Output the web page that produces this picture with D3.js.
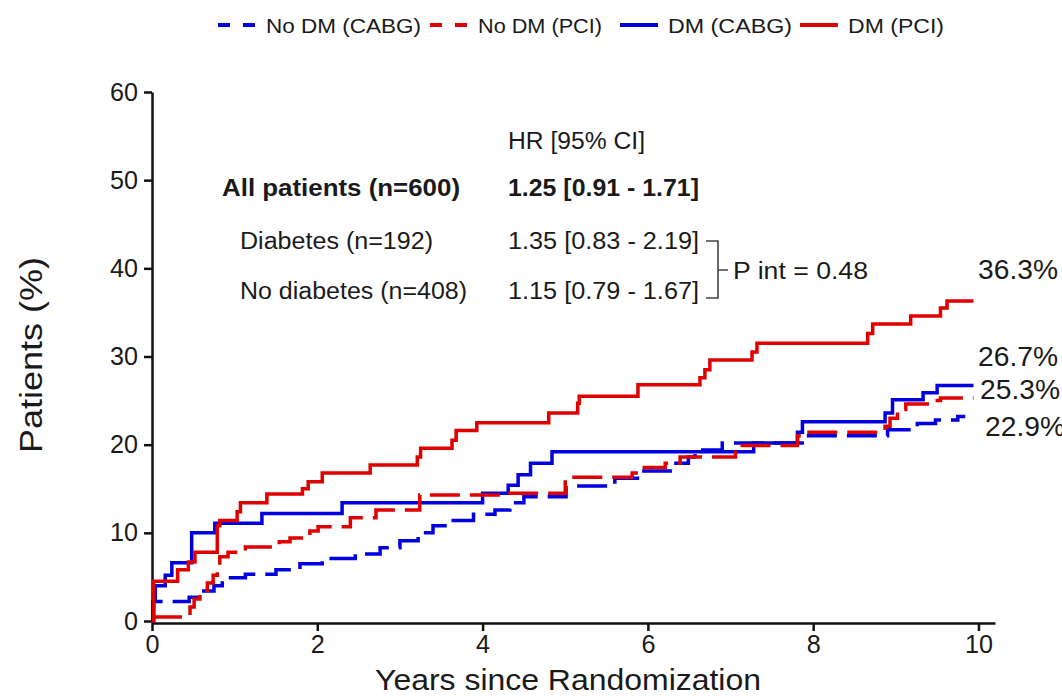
<!DOCTYPE html>
<html lang="en">
<head>
  <meta charset="UTF-8" />
  <script src="https://d3js.org/d3.v7.min.js"></script>
  <style>
    body { margin: 0; background: #fff; }
    text { font-family: "Liberation Sans", Arial, sans-serif; fill: #1a1a1a; }
    .axis path, .axis line { stroke: #111; stroke-width: 2.5px; }
  </style>
</head>
<body>
  <svg id="km" width="1062" height="696"></svg>

  <script>
    // Kaplan-Meier steps: [years, percent]
    const noDmCabg = [[0, 0], [0.01, 2.2], [0.45, 2.7], [0.6, 3.4], [0.75, 4.0], [0.85, 4.9], [1.13, 5.3],
      [1.5, 5.8], [1.79, 6.5], [2.06, 7.1], [2.46, 7.6], [2.76, 8.3], [3.0, 9.1], [3.22, 10.0], [3.4, 10.8],
      [3.61, 11.4], [3.89, 12.1], [4.15, 12.6], [4.33, 13.4], [4.5, 14.1], [5.01, 15.3], [5.6, 16.2],
      [5.91, 17.0], [6.27, 17.9], [6.49, 18.6], [6.57, 19.4], [6.9, 20.2], [7.9, 21.0], [8.9, 21.7],
      [9.26, 22.4], [9.48, 22.8], [9.75, 23.2], [9.84, 23.2]];
    const noDmPci = [[0, 0.45], [0.46, 1.6], [0.51, 2.5], [0.58, 3.5], [0.67, 4.3], [0.74, 5.2], [0.79, 6.1],
      [0.82, 7.3], [0.92, 7.8], [1.13, 8.4], [1.54, 9.0], [1.67, 9.4], [1.91, 10.2], [2.01, 10.7], [2.4, 11.7],
      [2.71, 12.6], [3.24, 14.3], [4.21, 14.5], [5.0, 16.3], [5.81, 16.8], [5.88, 17.4], [6.21, 17.9],
      [6.39, 18.6], [7.06, 19.9], [7.81, 21.0], [7.9, 21.4], [8.87, 22.1], [8.93, 23.0], [9.02, 24.0],
      [9.12, 24.6], [9.38, 25.0], [9.54, 25.3], [9.94, 25.3]];
    const dmCabg = [[0, 0], [0.02, 2.5], [0.04, 4.0], [0.16, 5.2], [0.24, 6.6], [0.48, 10.0], [0.76, 11.1],
      [1.33, 12.2], [2.3, 13.4], [4.0, 14.5], [4.31, 15.4], [4.43, 16.6], [4.58, 17.9], [4.84, 19.2],
      [7.28, 20.2], [7.81, 21.4], [7.87, 22.6], [8.87, 23.6], [8.96, 25.1], [9.33, 25.9], [9.5, 26.7],
      [9.94, 26.7]];
    const dmPci = [[0, 0], [0.02, 4.5], [0.31, 5.8], [0.44, 6.7], [0.52, 7.8], [0.79, 10.8], [0.82, 11.4],
      [1.03, 12.4], [1.07, 13.4], [1.39, 14.4], [1.82, 15.0], [1.89, 15.8], [2.06, 16.8], [2.64, 17.7],
      [3.21, 18.6], [3.25, 19.6], [3.63, 20.5], [3.68, 21.6], [3.93, 22.5], [4.8, 23.6], [5.15, 24.7],
      [5.17, 25.5], [5.88, 26.8], [6.63, 27.6], [6.69, 28.5], [6.75, 29.6], [7.26, 30.5], [7.32, 31.5],
      [8.66, 32.6], [8.72, 33.7], [9.18, 34.6], [9.54, 35.5], [9.62, 36.3], [9.94, 36.3]];

    const seriesNames = ["No DM (CABG)", "No DM (PCI)", "DM (CABG)", "DM (PCI)"];
    const seriesColors = ["#0000e0", "#e00000", "#0000e0", "#e00000"];
    const seriesDashed = [true, true, false, false];
    const seriesData = [noDmCabg, noDmPci, dmCabg, dmPci];
    const endLabels = ["22.9%", "25.3%", "26.7%", "36.3%"];

    const xTicks = [0, 2, 4, 6, 8, 10];
    const yTicks = [0, 10, 20, 30, 40, 50, 60];

    const hrHeader = "HR [95% CI]";
    const hrRows = [
      { group: "All patients (n=600)", hr: "1.25 [0.91 - 1.71]" },
      { group: "Diabetes (n=192)", hr: "1.35 [0.83 - 2.19]" },
      { group: "No diabetes (n=408)", hr: "1.15 [0.79 - 1.67]" }
    ];
    const pInt = "P int = 0.48";

    const svg = d3.select("#km");
    const x = d3.scaleLinear().domain([0, 10.2]).range([152, 995]);
    const y = d3.scaleLinear().domain([0, 60]).range([621, 92]);

    function addText(g, px, py, str, size, opts = {}) {
      const t = g.append("text")
        .attr("x", px).attr("y", py)
        .attr("font-size", size + "px")
        .attr("font-weight", opts.bold ? "bold" : "normal")
        .attr("text-anchor", opts.anchor || "start")
        .text(str);
      if (opts.width) t.attr("textLength", opts.width).attr("lengthAdjust", "spacingAndGlyphs");
      return t;
    }

    // axes
    const xAxis = svg.append("g").attr("class", "axis")
      .attr("transform", "translate(0,623)")
      .call(d3.axisBottom(x).tickValues(xTicks).tickSize(8).tickSizeOuter(0).tickPadding(4));
    xAxis.selectAll(".tick").each(function (d) {
      d3.select(this).select("text")
        .attr("font-size", "25px").attr("fill", "#1a1a1a")
        .attr("font-family", "Liberation Sans, Arial")
        .attr("textLength", String(d).length * 14).attr("lengthAdjust", "spacingAndGlyphs");
    });

    const yAxis = svg.append("g").attr("class", "axis")
      .attr("transform", "translate(152,0)")
      .call(d3.axisLeft(y).tickValues(yTicks).tickSize(8).tickSizeOuter(0).tickPadding(6));
    yAxis.selectAll(".tick").each(function (d) {
      d3.select(this).select("text")
        .attr("font-size", "25px").attr("fill", "#1a1a1a")
        .attr("font-family", "Liberation Sans, Arial")
        .attr("textLength", String(d).length * 14).attr("lengthAdjust", "spacingAndGlyphs");
    });

    // axis titles
    addText(svg, 568, 690, "Years since Randomization", 30, { anchor: "middle", width: 386 });
    svg.append("text")
      .attr("transform", "translate(42,355) rotate(-90)")
      .attr("text-anchor", "middle").attr("font-size", "32px")
      .attr("textLength", 196).attr("lengthAdjust", "spacingAndGlyphs")
      .text("Patients (%)");

    // curves
    const line = d3.line().x(d => x(d[0])).y(d => y(d[1])).curve(d3.curveStepAfter);
    const order = [2, 0, 1, 3];
    order.forEach(i => {
      svg.append("path")
        .datum(seriesData[i])
        .attr("d", line)
        .attr("fill", "none")
        .attr("stroke", seriesColors[i])
        .attr("stroke-width", 3.5)
        .attr("stroke-dasharray", seriesDashed[i] ? "30,10" : null);
    });

    // end labels
    const endY = [436, 399, 366, 279];
    const endX = [985, 980, 978, 978];
    endLabels.forEach((s, i) => addText(svg, endX[i], endY[i], s, 27, { width: 80 }));

    // legend
    const legend = svg.append("g");
    const legX = [218, 430, 620, 800];
    const legW = [155, 124, 124, 96];
    seriesNames.forEach((name, i) => {
      legend.append("line")
        .attr("x1", legX[i]).attr("x2", legX[i] + 38)
        .attr("y1", 25).attr("y2", 25)
        .attr("stroke", seriesColors[i]).attr("stroke-width", 4)
        .attr("stroke-dasharray", seriesDashed[i] ? "12,13" : null);
      addText(legend, legX[i] + 48, 33, name, 21, { width: legW[i] });
    });

    // hazard ratio table
    const ann = svg.append("g");
    addText(ann, 508, 149, hrHeader, 23, { width: 137 });
    const rowY = [196, 249, 299];
    const groupX = [222, 240, 240];
    const groupW = [238, 193, 227];
    hrRows.forEach((r, i) => {
      addText(ann, groupX[i], rowY[i], r.group, 23, { bold: i === 0, width: groupW[i] });
      addText(ann, 508, rowY[i], r.hr, 23, { bold: i === 0, width: 191 });
    });
    ann.append("path")
      .attr("d", "M706,241 H718 V298 H706 M718,270 H728")
      .attr("fill", "none").attr("stroke", "#444").attr("stroke-width", 1.6);
    addText(ann, 733, 279, pInt, 23, { width: 135 });
  </script>
</body>
</html>
